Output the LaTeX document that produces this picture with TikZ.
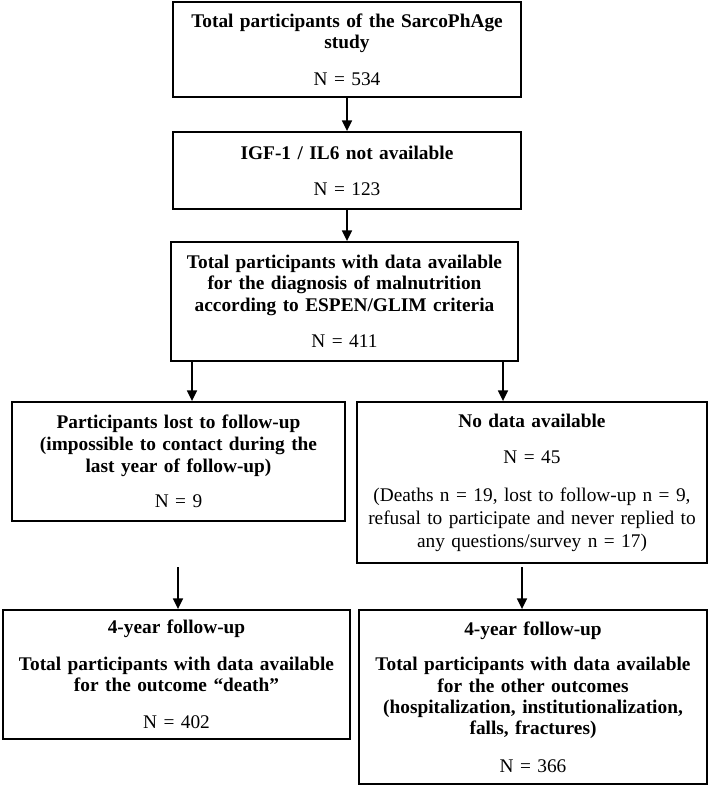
\documentclass[tikz,border=0pt]{standalone}
\usepackage{fontspec}
\setmainfont{Liberation Serif}
\usetikzlibrary{arrows.meta}
\begin{document}
\begin{tikzpicture}[x=0.75pt,y=-0.75pt,
  box/.style={draw, line width=1.4pt, rectangle, align=center, inner sep=0pt,
    font=\fontsize{14.5}{16}\selectfont\bfseries},
  arr/.style={line width=1.1pt, -{Triangle[length=8pt,width=7.5pt]}}]
\useasboundingbox[fill=white] (0,0) rectangle (709,788);

\node[box, minimum width=261pt, minimum height=71.25pt, text width=255pt] (B1) at (347,49.5)
  {Total participants of the SarcoPhAge\\ study\\[11.5pt] {\mdseries N = 534}};
\node[box, minimum width=261pt, minimum height=57.75pt, text width=255pt] (B2) at (347,170.5)
  {IGF-1 / IL6 not available\\[11pt] {\mdseries N = 123}};
\node[box, minimum width=260.25pt, minimum height=89.25pt, text width=255pt] (B3) at (344.5,301.5)
  {Total participants with data available\\ for the diagnosis of malnutrition\\ according to ESPEN/GLIM criteria\\[11.5pt] {\mdseries N = 411}};
\node[box, minimum width=249.75pt, minimum height=89.25pt, text width=245pt] (B4) at (178.5,461.5)
  {Participants lost to follow-up\\[0.5pt] (impossible to contact during the\\[0.5pt] last year of follow-up)\\[10.5pt] {\mdseries N = 9}};
\node[box, minimum width=262.5pt, minimum height=120.75pt, text width=258pt] (B5) at (532,482.5)
  {No data available\\[11.5pt] {\mdseries N = 45}\\[12.5pt] {\mdseries (Deaths n = 19, lost to follow-up n = 9,}\\[1pt] {\mdseries refusal to participate and never replied to}\\[1pt] {\mdseries any questions/survey n = 17)}};
\node[box, minimum width=260.25pt, minimum height=96.75pt, text width=255pt] (B6) at (176.5,674.5)
  {4-year follow-up\\[11.5pt] Total participants with data available\\ for the outcome “death”\\[11.5pt] {\mdseries N = 402}};
\node[box, minimum width=261pt, minimum height=130.5pt, text width=256pt] (B7) at (533,697)
  {4-year follow-up\\[10.5pt] Total participants with data available\\ for the other outcomes\\ (hospitalization, institutionalization,\\ falls, fractures)\\[12pt] {\mdseries N = 366}};

\coordinate (c3) at (192,0);
\coordinate (c4) at (503,0);
\coordinate (s5) at (178,567);
\coordinate (s6) at (522,567);

\draw[arr] (B1.south) -- (B2.north);
\draw[arr] (B2.south) -- (B2.south |- B3.north);
\draw[arr] (B3.south -| c3) -- (B4.north -| c3);
\draw[arr] (B3.south -| c4) -- (B5.north -| c4);
\draw[arr] (s5) -- (s5 |- B6.north);
\draw[arr] (s6) -- (s6 |- B7.north);
\end{tikzpicture}
\end{document}
